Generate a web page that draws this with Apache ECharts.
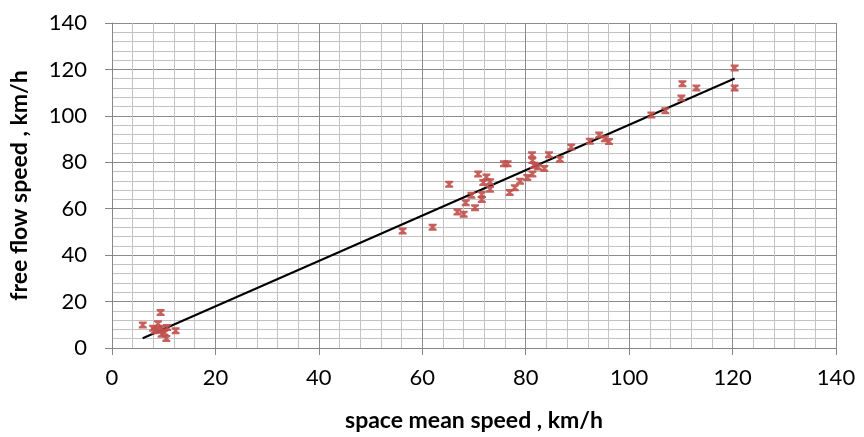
<!DOCTYPE html>
<html>
<head>
<meta charset="utf-8">
<script src="https://cdn.jsdelivr.net/npm/echarts@6/dist/echarts.min.js"></script>
<style>html,body{margin:0;padding:0;background:#fff}#c{width:864px;height:437px}</style>
</head>
<body>
<div id="c"></div>
<script>
var pointsX = [5.95, 7.95, 8.3, 8.9, 9.4, 9.0, 9.7, 10.2, 10.5, 10.65, 9.6, 12.3,
  56.2, 62.0, 65.2, 66.8, 68.0, 68.4, 69.5, 70.2, 70.8, 71.5, 71.5, 71.8, 72.4, 73.1, 73.1,
  75.8, 76.5, 76.9, 77.9, 78.9, 80.3, 81.3, 81.2, 81.3, 81.6, 82.4, 83.6, 84.5, 86.6, 88.8,
  92.4, 94.2, 95.3, 96.1, 104.3, 107.0, 110.1, 110.3, 113.0, 120.4, 120.4];
var pointsY = [9.9, 8.5, 7.4, 10.5, 15.3, 7.8, 8.5, 6.6, 4.1, 8.8, 5.9, 7.4,
  50.4, 52.0, 70.5, 58.6, 57.6, 62.6, 65.8, 60.4, 75.0, 64.0, 66.1, 71.3, 73.7, 68.4, 71.6,
  79.4, 79.4, 67.0, 69.0, 71.8, 73.4, 75.0, 83.3, 80.8, 78.7, 78.0, 77.3, 83.3, 81.3, 86.6,
  89.1, 91.8, 90.1, 89.0, 100.4, 102.2, 107.7, 113.8, 112.0, 120.6, 112.0];
var trendX = [5.94, 120.4];
var trendY = [4.2, 116.1];
var xTitle = 'space mean speed , km/h';
var yTitle = 'free flow speed , km/h';

var scatterData = pointsX.map(function (x, i) { return [x, pointsY[i]]; });
var trendData = trendX.map(function (x, i) { return [x, trendY[i]]; });

var font = 'Lato, "Open Sans", sans-serif';
function axis(name, gap, isY) {
  return {
    type: 'value', min: 0, max: 140, interval: 20,
    name: name, nameLocation: 'middle', nameGap: gap,
    nameTextStyle: { fontFamily: font, fontWeight: 'bold', fontSize: 23, color: '#000' },
    axisLine: { show: true, lineStyle: { color: '#868686', width: 1 } },
    axisTick: { show: true, inside: false, length: 7, lineStyle: { color: '#868686' } },
    axisLabel: { fontFamily: font, fontSize: 22, color: '#000', margin: isY ? 25 : 19 },
    splitLine: { show: true, lineStyle: { color: '#8c8c8c', width: 1 } },
    minorTick: { show: false, splitNumber: 5 },
    minorSplitLine: { show: true, lineStyle: { color: '#c2c2c2', width: 1 } }
  };
}
var chart = echarts.init(document.getElementById('c'), null, { renderer: 'canvas' });
chart.setOption({
  animation: false,
  grid: { left: 111, top: 23, width: 725, height: 327, containLabel: false },
  xAxis: axis(xTitle, 61, false),
  yAxis: axis(yTitle, 81, true),
  series: [
    {
      type: 'line', data: trendData, symbol: 'none', z: 3,
      lineStyle: { color: '#000', width: 2 }
    },
    {
      type: 'scatter', data: scatterData, z: 4,
      symbol: 'path://M0,0 L10,0 L10,2.5 L6.5,5 L10,7.5 L10,10 L0,10 L0,7.5 L3.5,5 L0,2.5 Z',
      symbolSize: [8, 7],
      itemStyle: { color: '#c0504d', opacity: 0.9 }
    }
  ]
});
</script>
</body>
</html>
